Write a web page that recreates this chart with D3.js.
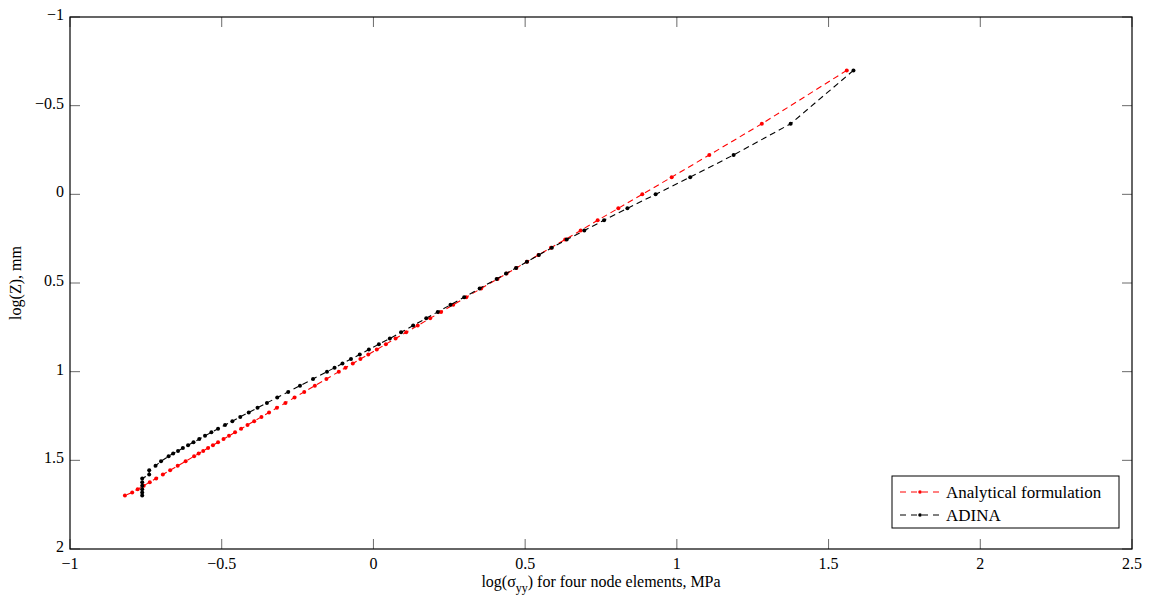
<!DOCTYPE html>
<html>
<head>
<meta charset="utf-8">
<style>
  body { margin: 0; background: #fff; }
  text { font-family: "Liberation Serif", "Times New Roman", serif; fill: #000; }
</style>
</head>
<body>
<div id="chart-area"></div>

<script src="https://cdn.jsdelivr.net/npm/d3@7"></script>
<script>
    // log(Z) in mm, same depths for both series
    const logZ = [
        -0.699, -0.398, -0.222, -0.097, 0.000, 0.079, 0.146, 0.204, 0.255, 0.301,
        0.342, 0.380, 0.415, 0.447, 0.477, 0.531, 0.580, 0.623, 0.663, 0.699,
        0.740, 0.778, 0.813, 0.845, 0.875, 0.903, 0.929, 0.954, 0.978, 1.000,
        1.041, 1.079, 1.114, 1.146, 1.176, 1.204, 1.230, 1.255, 1.279, 1.301,
        1.322, 1.342, 1.362, 1.380, 1.398, 1.415, 1.431, 1.447, 1.462, 1.477,
        1.505, 1.531, 1.556, 1.580, 1.602, 1.623, 1.643, 1.663, 1.681, 1.699
    ];
    // log(sigma_yy), analytical
    const analytical = [
        1.560, 1.280, 1.107, 0.983, 0.886, 0.807, 0.739, 0.683, 0.632, 0.585,
        0.544, 0.506, 0.471, 0.439, 0.409, 0.355, 0.306, 0.263, 0.223, 0.187,
        0.146, 0.108, 0.073, 0.041, 0.011, -0.017, -0.043, -0.068, -0.092, -0.114,
        -0.155, -0.193, -0.228, -0.260, -0.290, -0.318, -0.344, -0.369, -0.393, -0.415,
        -0.436, -0.456, -0.476, -0.494, -0.512, -0.529, -0.545, -0.561, -0.576, -0.591,
        -0.619, -0.645, -0.670, -0.694, -0.716, -0.737, -0.757, -0.777, -0.795, -0.819
    ];
    // log(sigma_yy), ADINA four node elements
    const adina = [
        1.582, 1.375, 1.187, 1.044, 0.930, 0.837, 0.760, 0.695, 0.637, 0.588,
        0.545, 0.506, 0.470, 0.437, 0.406, 0.350, 0.299, 0.254, 0.212, 0.174,
        0.131, 0.091, 0.054, 0.018, -0.015, -0.045, -0.074, -0.102, -0.128, -0.153,
        -0.199, -0.242, -0.281, -0.317, -0.351, -0.382, -0.411, -0.439, -0.465, -0.489,
        -0.512, -0.534, -0.555, -0.574, -0.593, -0.611, -0.628, -0.644, -0.660, -0.675,
        -0.700, -0.718, -0.739, -0.739, -0.762, -0.762, -0.762, -0.762, -0.762, -0.762
    ];
    const xTicks = [-1, -0.5, 0, 0.5, 1, 1.5, 2, 2.5];
    const yTicks = [-1, -0.5, 0, 0.5, 1, 1.5, 2];
    const seriesNames = ["Analytical formulation", "ADINA"];
    const seriesColors = ["#ff0000", "#000000"];

    const width = 1154, height = 603;
    const m = { left: 70, right: 1132, top: 17, bottom: 549 };

    const svg = d3.select("#chart-area").append("svg")
        .attr("width", width)
        .attr("height", height);

    const x = d3.scaleLinear().domain([-1, 2.5]).range([m.left, m.right]);
    const y = d3.scaleLinear().domain([-1, 2]).range([m.top, m.bottom]);

    const fmt = d => String(d).replace("-", "\u2212");
    const tickLen = 10;

    // ticks (inside, mirrored on top/right)
    const tg = svg.append("g").attr("stroke", "#444").attr("stroke-width", 0.8);
    xTicks.forEach(t => {
        tg.append("line").attr("x1", x(t)).attr("x2", x(t)).attr("y1", m.bottom).attr("y2", m.bottom - tickLen);
        tg.append("line").attr("x1", x(t)).attr("x2", x(t)).attr("y1", m.top).attr("y2", m.top + tickLen);
    });
    yTicks.forEach(t => {
        tg.append("line").attr("y1", y(t)).attr("y2", y(t)).attr("x1", m.left).attr("x2", m.left + tickLen);
        tg.append("line").attr("y1", y(t)).attr("y2", y(t)).attr("x1", m.right).attr("x2", m.right - tickLen);
    });

    svg.append("g").selectAll("text").data(xTicks).join("text")
        .attr("x", d => x(d))
        .attr("y", m.bottom + 20)
        .attr("text-anchor", "middle")
        .attr("font-size", 16)
        .text(fmt);

    svg.append("g").selectAll("text").data(yTicks).join("text")
        .attr("x", m.left - 6)
        .attr("y", d => y(d) + 3)
        .attr("text-anchor", "end")
        .attr("font-size", 16)
        .text(fmt);

    // box
    svg.append("rect")
        .attr("x", m.left).attr("y", m.top)
        .attr("width", m.right - m.left).attr("height", m.bottom - m.top)
        .attr("fill", "none").attr("stroke", "#000").attr("stroke-width", 1.2);

    // axis labels
    const xl = svg.append("text")
        .attr("x", (m.left + m.right) / 2)
        .attr("y", m.bottom + 38)
        .attr("text-anchor", "middle")
        .attr("font-size", 16);
    xl.append("tspan").text("log(\u03c3");
    xl.append("tspan").attr("font-size", 12).attr("dy", 5).text("yy");
    xl.append("tspan").attr("dy", -5).text(") for four node elements, MPa");

    svg.append("text")
        .attr("transform", `translate(21, ${(m.top + m.bottom) / 2}) rotate(-90)`)
        .attr("text-anchor", "middle")
        .attr("font-size", 16)
        .text("log(Z), mm");

    // series
    const series = [analytical, adina];
    const line = d3.line().x(d => x(d[0])).y(d => y(d[1]));

    series.forEach((vals, i) => {
        const pts = vals.map((v, j) => [v, logZ[j]]);
        const g = svg.append("g");
        g.append("path")
            .datum(pts)
            .attr("d", line)
            .attr("fill", "none")
            .attr("stroke", seriesColors[i])
            .attr("stroke-width", 1.1)
            .attr("stroke-dasharray", "6,4");
        g.selectAll("circle").data(pts).join("circle")
            .attr("cx", d => x(d[0]))
            .attr("cy", d => y(d[1]))
            .attr("r", 2)
            .attr("fill", seriesColors[i]);
    });

    // legend
    const lg = svg.append("g").attr("transform", "translate(892, 476)");
    lg.append("rect")
        .attr("width", 227).attr("height", 52)
        .attr("fill", "#fff").attr("stroke", "#000").attr("stroke-width", 1);
    seriesNames.forEach((name, i) => {
        const ly = 16 + i * 23;
        lg.append("line")
            .attr("x1", 8).attr("x2", 48).attr("y1", ly).attr("y2", ly)
            .attr("stroke", seriesColors[i]).attr("stroke-width", 1)
            .attr("stroke-dasharray", "6,5");
        lg.append("circle").attr("cx", 28).attr("cy", ly).attr("r", 1.8).attr("fill", seriesColors[i]);
        lg.append("text")
            .attr("x", 54).attr("y", ly + 6)
            .attr("font-size", 17)
            .text(name);
    });
</script>
</body>
</html>
